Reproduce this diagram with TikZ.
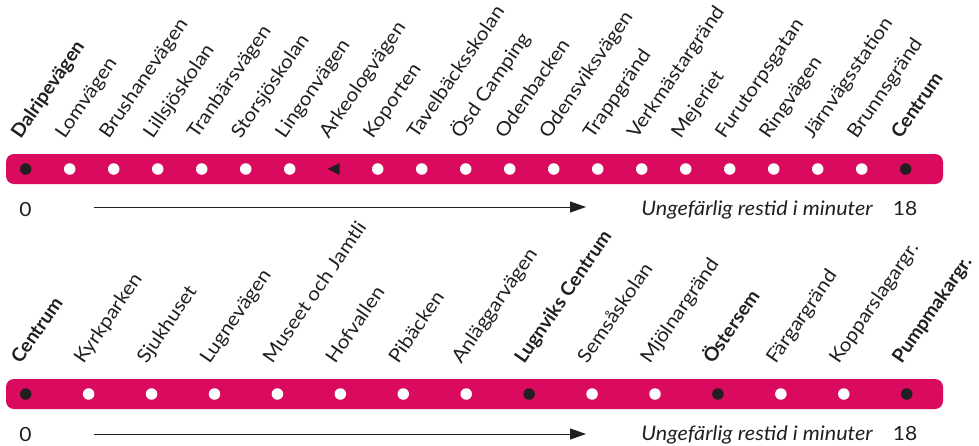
\documentclass[tikz,border=0pt]{standalone}
\usepackage{fontspec}
\setmainfont{Lato}[FakeStretch=1.08]
\newfontfamily\labfont{Lato}[FakeStretch=1.1]
\newfontfamily\blabfont{Lato}[FakeStretch=1.02]
\usetikzlibrary{arrows.meta,calc}
\definecolor{barcol}{RGB}{218,10,94}
\definecolor{ink}{RGB}{35,31,32}
\def\kindb{b}
\def\kinda{a}
\tikzset{
  barbox/.style={fill=barcol, rounded corners=8pt},
  wdot/.style={circle, fill=white, minimum size=11.5pt, inner sep=0pt},
  bdot/.style={circle, fill=ink, minimum size=11.5pt, inner sep=0pt},
  adot/.style={inner sep=0pt, minimum size=2pt},
  lab/.style={rotate=55.5, anchor=base west, inner sep=0pt, text=ink, font=\labfont\fontsize{19}{19}\selectfont},
  blab/.style={lab, font=\blabfont\fontsize{19}{19}\selectfont\bfseries},
  numtxt/.style={inner sep=0pt, text=ink, anchor=base, font=\fontsize{19.5}{19.5}\selectfont},
  notetxt/.style={inner sep=0pt, text=ink, anchor=base east, font=\fontsize{20}{20}\selectfont\itshape},
  timearrow/.style={draw=ink, line width=0.9pt, -{Triangle[length=16pt,width=11pt]}},
  dirtri/.style={fill=ink}
}
\begin{document}
\begin{tikzpicture}[x=1pt,y=-1pt]
\useasboundingbox (0,0) rectangle (979,445);
% ---------- top line ----------
\fill[barbox] (6,154) rectangle (943,184);
\foreach \i/\nm/\ty in {0/Dalripevägen/b,1/Lomvägen/w,2/Brushanevägen/w,3/Lillsjöskolan/w,4/Tranbärsvägen/w,5/Storsjöskolan/w,6/Lingonvägen/w,7/Arkeologvägen/a,8/Koporten/w,9/Tavelbäcksskolan/w,10/Ösd Camping/w,11/Odenbacken/w,12/Odensviksvägen/w,13/Trappgränd/w,14/Verkmästargränd/w,15/Mejeriet/w,16/Furutorpsgatan/w,17/Ringvägen/w,18/Järnvägsstation/w,19/Brunnsgränd/w,20/Centrum/b}{
  \pgfmathsetmacro{\xx}{25.7+44.0*\i}
  \ifx\ty\kindb
    \node[bdot] (t\i) at (\xx,169) {};
    \node[blab] (tl\i) at ($(t\i)+(-5,-29)$) {\nm};
  \else
    \ifx\ty\kinda
      \node[adot] (t\i) at (\xx,169) {};
    \else
      \node[wdot] (t\i) at (\xx,169) {};
    \fi
    \node[lab] (tl\i) at ($(t\i)+(-5,-29)$) {\nm};
  \fi
}
\fill[dirtri] ($(t7)+(-6,0)$) -- ($(t7)+(6,-6)$) -- ($(t7)+(6,6)$) -- cycle;
\node[numtxt] (tz) at (25.5,216) {0};
\node[numtxt] (te) at (905,215) {18};
\node[notetxt] (tn) at (873,215) {Ungefärlig restid i minuter};
\coordinate (ta0) at (94,207);
\coordinate (ta1) at (586,207);
\draw[timearrow] (ta0) -- (ta1);
% ---------- bottom line ----------
\fill[barbox] (6,379) rectangle (943,409);
\foreach \i/\nm/\ty in {0/Centrum/b,1/Kyrkparken/w,2/Sjukhuset/w,3/Lugnevägen/w,4/Museet och Jamtli/w,5/Hofvallen/w,6/Pibäcken/w,7/Anläggarvägen/w,8/Lugnviks Centrum/b,9/Semsåskolan/w,10/Mjölnargränd/w,11/Östersem/b,12/Färgargränd/w,13/Kopparslagargr./w,14/Pumpmakargr./b}{
  \pgfmathsetmacro{\xx}{25.7+62.93*\i}
  \ifx\ty\kindb
    \node[bdot] (b\i) at (\xx,394) {};
    \node[blab] (bl\i) at ($(b\i)+(-5,-29)$) {\nm};
  \else
    \node[wdot] (b\i) at (\xx,394) {};
    \node[lab] (bl\i) at ($(b\i)+(-5,-29)$) {\nm};
  \fi
}
\node[numtxt] (bz) at (25.5,441) {0};
\node[numtxt] (be) at (905,440) {18};
\node[notetxt] (bn) at (873,440) {Ungefärlig restid i minuter};
\coordinate (ba0) at (94,434);
\coordinate (ba1) at (586,434);
\draw[timearrow] (ba0) -- (ba1);
\end{tikzpicture}
\end{document}
